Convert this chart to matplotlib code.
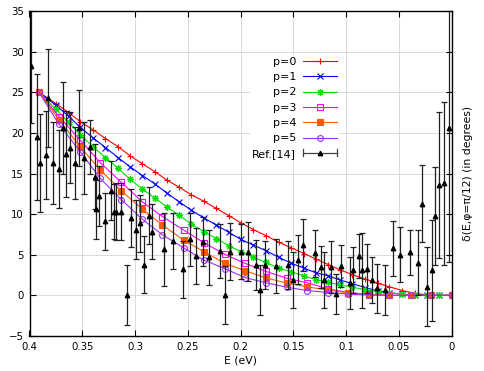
import matplotlib
matplotlib.use("Agg")
import matplotlib.pyplot as plt
from matplotlib.lines import Line2D
from matplotlib.legend_handler import HandlerBase

# ---------------- data ----------------
# energy grid of the p=0,1,2 curves (eV)
E_a = [0.391, 0.375, 0.363, 0.352, 0.340, 0.328, 0.316, 0.305, 0.293, 0.281,
       0.270, 0.258, 0.247, 0.235, 0.223, 0.211, 0.200, 0.188, 0.176, 0.164,
       0.152, 0.140, 0.129, 0.117, 0.106, 0.094, 0.082, 0.070, 0.059, 0.047,
       0.035, 0.023, 0.012, 0.0]
p0 = [25.0, 23.6, 22.5, 21.4, 20.4, 19.3, 18.3, 17.2, 16.2, 15.2,
      14.2, 13.3, 12.4, 11.6, 10.7, 9.8, 8.95, 8.1, 7.35, 6.55,
      5.85, 5.15, 4.5, 3.8, 3.15, 2.55, 2.0, 1.5, 1.05, 0.6,
      0.25, 0.05, 0.0, 0.0]
p1 = [25.0, 23.4, 22.05, 20.7, 19.4, 18.2, 16.95, 15.85, 14.75, 13.7,
      12.6, 11.5, 10.5, 9.55, 8.65, 7.75, 6.9, 6.2, 5.5, 4.7,
      3.95, 3.35, 2.8, 2.4, 1.9, 1.45, 0.95, 0.55, 0.33, 0.15,
      0.05, 0.0, 0.0, 0.0]
p2 = [25.0, 22.9, 21.3, 19.8, 18.3, 16.95, 15.65, 14.3, 13.1, 11.95,
      10.9, 9.85, 8.8, 7.85, 7.0, 6.1, 5.4, 4.7, 4.05, 3.35,
      2.9, 2.4, 1.95, 1.6, 1.3, 1.0, 0.7, 0.45, 0.3, 0.15,
      0.05, 0.0, 0.0, 0.0]

# energy grid of the p=3,4,5 curves (eV)
E_b = [0.391, 0.372, 0.352, 0.333, 0.313, 0.293, 0.274, 0.254, 0.235, 0.215,
       0.196, 0.176, 0.156, 0.137, 0.117, 0.098, 0.078, 0.059, 0.039, 0.020, 0.0]
p3 = [25.0, 22.0, 19.1, 16.35, 13.9, 11.5, 9.7, 8.05, 6.5, 5.05,
      3.95, 2.95, 2.1, 1.55, 0.8, 0.35, 0.13, 0.02, 0.0, 0.0, 0.0]
p4 = [25.0, 21.6, 18.3, 15.45, 12.85, 10.6, 8.65, 6.8, 5.4, 3.95,
      3.05, 2.15, 1.5, 1.05, 0.65, 0.3, 0.1, 0.0, 0.0, 0.0, 0.0]
p5 = [25.0, 21.05, 17.7, 14.4, 11.8, 9.35, 7.45, 5.85, 4.35, 3.3,
      2.2, 1.55, 1.0, 0.6, 0.35, 0.15, 0.05, 0.0, 0.0, 0.0, 0.0]

# Ref.[14] experimental points
ref_E = [0.3985, 0.3932, 0.3900, 0.3843, 0.3821, 0.3773, 0.3723, 0.3685, 0.3653, 0.3612,
         0.3565, 0.3533, 0.3483, 0.3428, 0.3384, 0.3368, 0.3337, 0.3280, 0.3232, 0.3201,
         0.3178, 0.3131, 0.3078, 0.3043, 0.2995, 0.2957, 0.2919, 0.2872, 0.2837, 0.2730,
         0.2641, 0.2546, 0.2483, 0.2419, 0.2357, 0.2300, 0.2192, 0.2151, 0.2103, 0.1992,
         0.1930, 0.1850, 0.1812, 0.1771, 0.1667, 0.1550, 0.1506, 0.1455, 0.1408, 0.1297,
         0.1243, 0.1212, 0.1148, 0.1098, 0.1053, 0.0965, 0.0934, 0.0877, 0.0854, 0.0806,
         0.0759, 0.0712, 0.0633, 0.0560, 0.0490, 0.0396, 0.0323, 0.0279, 0.0232, 0.0190,
         0.0158, 0.0118, 0.0070, 0.0026]
ref_delta = [28.2, 19.5, 16.3, 17.3, 24.3, 16.3, 15.6, 20.6, 17.4, 18.2,
             16.3, 20.6, 16.9, 18.3, 14.6, 10.6, 12.2, 9.1, 12.9, 10.3,
             10.3, 10.3, 0.05, 9.5, 8.1, 8.85, 3.75, 9.8, 7.85, 5.7,
             6.7, 3.2, 6.9, 4.85, 6.6, 4.7, 5.5, 0.05, 5.4, 5.4,
             5.4, 3.75, 0.66, 3.75, 3.6, 3.75, 1.9, 4.4, 6.2, 5.2,
             3.45, 1.9, 3.55, 0.17, 3.6, 1.5, 3.1, 4.85, 3.1, 3.3,
             1.9, 0.87, 0.66, 5.8, 5.0, 5.3, 4.0, 11.3, 1.07, 3.1,
             9.8, 13.6, 13.8, 20.6]
ref_err = [7.0, 7.7, 6.0, 5.4, 6.0, 5.0, 4.8, 5.6, 5.3, 4.4,
           4.4, 4.7, 4.4, 3.3, 4.0, 3.6, 3.7, 3.5, 3.6, 3.4,
           3.5, 3.5, 3.7, 3.6, 3.6, 3.5, 3.5, 3.5, 3.4, 4.5,
           3.5, 3.5, 3.3, 3.4, 3.0, 3.4, 3.3, 3.6, 3.5, 3.4,
           3.6, 3.1, 3.1, 3.0, 3.3, 3.0, 3.5, 3.0, 3.2, 2.9,
           2.6, 3.5, 3.2, 2.5, 2.6, 3.2, 2.8, 2.7, 4.6, 3.0,
           2.8, 3.0, 3.1, 3.4, 3.4, 2.8, 4.0, 4.7, 4.9, 6.2,
           6.0, 9.0, 10.0, 16.5]

labels = ["p=0", "p=1", "p=2", "p=3", "p=4", "p=5"]
x_ticks = [0.4, 0.35, 0.3, 0.25, 0.2, 0.15, 0.1, 0.05, 0]
x_ticklabels = ["0.4", "0.35", "0.3", "0.25", "0.2", "0.15", "0.1", "0.05", "0"]
y_ticks = [-5, 0, 5, 10, 15, 20, 25, 30, 35]

# ---------------- figure ----------------
fig = plt.figure(figsize=(4.84, 3.71), dpi=100)
ax = fig.add_axes([29.5 / 484, 1 - 336 / 371, (451.7 - 29.5) / 484, (336 - 11) / 371])

ax.grid(True, color="#d4d4d4", linewidth=0.6)
ax.set_axisbelow(True)

styles = [
    dict(color="#ff0000", marker="+", ms=5, mfc="none"),
    dict(color="#0000ff", marker="x", ms=4, mfc="none"),
    dict(color="#00e000", marker=(8, 2, 0), ms=5, mfc="none"),
    dict(color="#ff00ff", marker="s", ms=4.2, mfc="none"),
    dict(color="#ff5a00", marker="s", ms=4.2),
    dict(color="#9b30ff", marker="o", ms=4.2, mfc="none"),
]
series = [(E_a, p0), (E_a, p1), (E_a, p2), (E_b, p3), (E_b, p4), (E_b, p5)]
handles = []
for (xs, ys), st, lab in zip(series, styles, labels):
    h, = ax.plot(xs, ys, lw=0.8, mew=0.8, label=lab, **st)
    handles.append(h)

ax.errorbar(ref_E, ref_delta, yerr=ref_err, fmt="^", color="black", ms=3.2,
            elinewidth=0.9, capsize=2.2, capthick=0.9, ecolor="#202020")

ax.set_xlim(0.4, 0)
ax.set_ylim(-5, 35)
ax.set_xticks(x_ticks)
ax.set_xticklabels(x_ticklabels)
ax.set_yticks(y_ticks)
ax.tick_params(direction="in", top=True, right=True, length=4, width=0.8,
               labelsize=7.3, pad=4)
for s in ax.spines.values():
    s.set_linewidth(1.0)

ax.set_xlabel("E (eV)", fontsize=7.8, labelpad=3)
ax.yaxis.set_label_position("right")
ax.set_ylabel("δ(E,φ=π/12) (in degrees)", fontsize=7.8, labelpad=8)


class HandlerHErr(HandlerBase):
    def create_artists(self, legend, orig_handle, xdescent, ydescent, width,
                       height, fontsize, trans):
        y = height / 2 - ydescent
        x0 = -xdescent
        x1 = -xdescent + width
        c = height * 0.9
        arts = [
            Line2D([x0, x1], [y, y], color="#404040", lw=0.9),
            Line2D([x0, x0], [y - c / 2, y + c / 2], color="#404040", lw=0.9),
            Line2D([x1, x1], [y - c / 2, y + c / 2], color="#404040", lw=0.9),
            Line2D([(x0 + x1) / 2], [y], marker="^", color="black", ms=3.2, ls="none"),
        ]
        for a in arts:
            a.set_transform(trans)
        return arts


ref_proxy = object()
leg = fig.legend(handles + [ref_proxy], labels + ["Ref.[14]"],
                 handler_map={ref_proxy.__class__: HandlerHErr()},
                 loc="upper right", bbox_to_anchor=(345 / 484, 1 - 49 / 371),
                 markerfirst=False, numpoints=1, fontsize=8,
                 handlelength=3.1, handletextpad=0.6, labelspacing=0.48,
                 borderpad=0.2, frameon=True, fancybox=False)
leg.get_frame().set_edgecolor("none")
leg.get_frame().set_facecolor("white")
leg.get_frame().set_alpha(1)

fig.savefig("out.png", dpi=100)
